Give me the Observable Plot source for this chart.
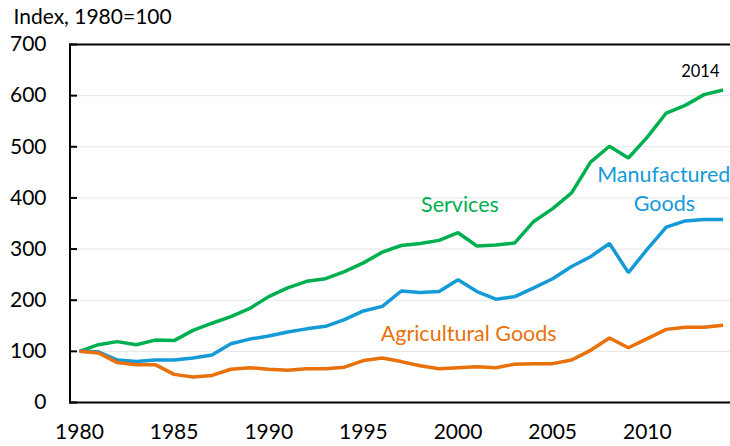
<!DOCTYPE html>
<html>
<head>
<meta charset="utf-8">
<script src="https://cdn.jsdelivr.net/npm/d3@7"></script>
<script src="https://cdn.jsdelivr.net/npm/@observablehq/plot@0.6"></script>
<style>
  html, body { margin: 0; padding: 0; background: #fff; }
  #chart { width: 730px; height: 446px; overflow: hidden; }
</style>
</head>
<body>
<div id="chart"></div>
<script>
const years = d3.range(1980, 2015);
const services = [100,113,119,113,122,121,141,155,168,184,207,224,237,242,256,273,294,307,311,317,332,306,308,312,354,379,410,470,501,478,519,566,581,602,611];
const manufactured = [100,99,83,80,83,83,87,93,115,124,130,138,144,149,162,179,188,218,215,217,240,217,202,207,224,242,266,285,311,254,300,343,355,358,358];
const agricultural = [100,97,78,74,74,55,50,53,65,68,65,63,66,66,69,82,87,80,72,66,68,70,68,75,76,76,83,102,126,107,125,143,147,147,151];
const seriesNames = ["Services", "Manufactured Goods", "Agricultural Goods"];
const seriesColors = ["#00b050", "#159ad8", "#e8710a"];
const yTicks = [0, 100, 200, 300, 400, 500, 600, 700];
const xTicks = [1980, 1985, 1990, 1995, 2000, 2005, 2010];
const gridTicks = [100, 200, 300, 400, 500, 600];

const table = [];
[services, manufactured, agricultural].forEach((vals, i) => {
  vals.forEach((v, j) => table.push({year: years[j], value: v, series: seriesNames[i]}));
});

const font = "Lato, 'Open Sans', sans-serif";

const chart = Plot.plot({
  width: 730,
  height: 446,
  marginLeft: 69,
  marginRight: 0,
  marginTop: 44,
  marginBottom: 44,
  style: {fontFamily: font, fontSize: "21px", color: "#000", background: "#fff"},
  x: {domain: [1979.5, 2014.5], range: [69.5, 732]},
  y: {domain: [0, 700]},
  color: {domain: seriesNames, range: seriesColors},
  marks: [
    Plot.ruleY(gridTicks, {stroke: "#e4e4e4", strokeWidth: 1}),
    Plot.axisX({ticks: xTicks, tickSize: 0, tickPadding: 22, tickFormat: d => String(d), label: null, fontSize: 21}),
    Plot.axisY({ticks: yTicks, tickSize: 0, tickPadding: 23, label: null, fontSize: 21}),
    Plot.axisY({ticks: yTicks, tickSize: 8, dx: 8, tickFormat: () => "", label: null, strokeWidth: 2}),
    Plot.ruleY([0, 700], {stroke: "#000", strokeWidth: 2}),
    Plot.ruleX([1979.5], {stroke: "#000", strokeWidth: 2}),
    Plot.line(table, {x: "year", y: "value", z: "series", stroke: "series", strokeWidth: 3.5, strokeLinejoin: "miter", strokeLinecap: "butt"}),
    Plot.text(["Services"], {x: 2000.1, y: 385, fill: seriesColors[0], fontSize: 21.5}),
    Plot.text(["Manufactured"], {x: 2007.35, y: 444, fill: seriesColors[1], fontSize: 21.5, textAnchor: "start"}),
    Plot.text(["Goods"], {x: 2010.9, y: 387, fill: seriesColors[1], fontSize: 21.5}),
    Plot.text(["Agricultural Goods"], {x: 2000.56, y: 133, fill: seriesColors[2], fontSize: 21.5}),
    Plot.text(["2014"], {x: 2012.8, y: 646, fill: "#000", fontSize: 16.5}),
    Plot.text(["Index, 1980=100"], {frameAnchor: "top-left", dx: -56, dy: -27, textAnchor: "start", lineAnchor: "middle", fontSize: 21, fill: "#000"})
  ]
});
document.getElementById("chart").appendChild(chart);
</script>
</body>
</html>
